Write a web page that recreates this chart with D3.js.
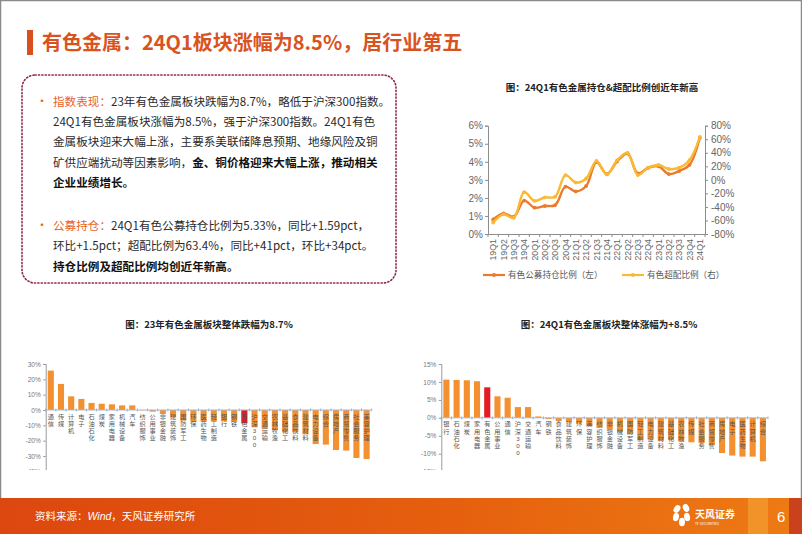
<!DOCTYPE html>
<html><head><meta charset="utf-8">
<script src="https://cdn.jsdelivr.net/npm/d3@7/dist/d3.min.js"></script>
<style>
body{margin:0;background:#fff;}
svg{display:block;font-family:"Noto Sans CJK SC","Noto Sans",sans-serif;}
</style></head><body>
<svg id="c" width="802" height="534"></svg>
<script>
// ---------- data ----------
const quarters = ["19Q1","19Q2","19Q3","19Q4","20Q1","20Q2","20Q3","20Q4","21Q1","21Q2","21Q3","21Q4","22Q1","22Q2","22Q3","22Q4","23Q1","23Q2","23Q3","23Q4","24Q1"];
const holdingRatio = [0.81,1.14,0.96,1.85,1.46,1.55,1.6,2.62,2.36,2.66,3.99,3.32,4.02,4.46,3.36,3.67,3.75,3.32,3.49,3.83,5.33];
const overweightRatio = [-63,-51,-56,-18,-31,-26,-25,7,-4,2,28,8,29,40,7,18,22,16,18,29,63.4];
const leftTicks = [0,1,2,3,4,5,6];
const rightTicks = [-80,-60,-40,-20,0,20,40,60,80];
const legendNames = ["有色公募持仓比例（左）","有色超配比例（右）"];

const cats2023 = ["通信","传媒","计算机","电子","石油石化","煤炭","家用电器","机械设备","汽车","纺织服饰","公用事业","非银金融","建筑装饰","国防军工","环保","医药生物","轻工制造","银行","钢铁","有色金属","沪深300","交通运输","农林牧渔","基础化工","食品饮料","建筑材料","电力设备","综合","房地产","商贸零售","社会服务","美容护理"];
const vals2023 = [25.7,17.0,8.9,7.2,4.6,4.1,3.7,3.0,3.0,-0.2,-1.1,-2.6,-4.8,-7.0,-7.8,-7.4,-7.2,-7.2,-7.6,-8.7,-11.3,-12.2,-13.0,-14.6,-14.6,-15.9,-22.2,-22.6,-26.1,-26.5,-31.3,-32.0];
const ticks2023 = [30,20,10,0,-10,-20,-30,-40];

const cats24Q1 = ["银行","石油石化","煤炭","家用电器","有色金属","公用事业","通信","沪深300","交通运输","汽车","钢铁","食品饮料","建筑装饰","环保","美容护理","纺织服饰","非银金融","机械设备","国防军工","轻工制造","电力设备","建筑材料","基础化工","农林牧渔","传媒","社会服务","商贸零售","房地产","电子","医药生物","计算机","综合"];
const vals24Q1 = [10.65,10.56,10.47,10.2,8.5,6.0,5.6,3.0,3.0,0.4,-0.35,-0.9,-1.2,-1.5,-2.3,-2.8,-3.1,-3.9,-4.5,-6.2,-6.0,-6.4,-6.2,-6.6,-6.8,-7.0,-7.6,-9.8,-10.5,-10.8,-10.8,-12.1];
const ticks24Q1 = [15,10,5,0,-5,-10,-15];

const highlight = "有色金属";

// ---------- slide ----------
const svg = d3.select("#c");
svg.append("rect").attr("x",0.5).attr("y",0.5).attr("width",801).attr("height",533).attr("fill","#fff").attr("stroke","#8a8a8a").attr("stroke-width",1.5);

// title
svg.append("rect").attr("x",27).attr("y",30).attr("width",6).attr("height",25).attr("fill","#D9501E");
svg.append("text").attr("x",42).attr("y",50).attr("font-size",20).attr("font-weight","bold").attr("fill","#D9531F")
  .text("有色金属：24Q1板块涨幅为8.5%，居行业第五");

// text box
svg.append("rect").attr("x",22).attr("y",75).attr("width",374).attr("height",208).attr("rx",13)
  .attr("fill","none").attr("stroke","#8E2A45").attr("stroke-width",1.6).attr("stroke-dasharray","1.2,2.2").attr("stroke-linecap","round");
const lines = [
  {y:106, bullet:true, parts:[["指数表现：","o"],["23年有色金属板块跌幅为8.7%，略低于沪深300指数。","n"]]},
  {y:126, parts:[["24Q1有色金属板块涨幅为8.5%，强于沪深300指数。24Q1有色","n"]]},
  {y:146, parts:[["金属板块迎来大幅上涨，主要系美联储降息预期、地缘风险及铜","n"]]},
  {y:166.5, parts:[["矿供应端扰动等因素影响，","n"],["金、铜价格迎来大幅上涨，推动相关","b"]]},
  {y:186.5, parts:[["企业业绩增长。","b"]]},
  {y:230, bullet:true, parts:[["公募持仓：","o"],["24Q1有色公募持仓比例为5.33%，同比+1.59pct，","n"]]},
  {y:250, parts:[["环比+1.5pct；超配比例为63.4%，同比+41pct，环比+34pct。","n"]]},
  {y:271, parts:[["持仓比例及超配比例均创近年新高。","b"]]}
];
lines.forEach(l=>{
  if(l.bullet) svg.append("text").attr("x",36).attr("y",l.y).attr("font-size",12).attr("fill","#E8632A").text("•");
  const t = svg.append("text").attr("x",53).attr("y",l.y).attr("font-size",11.6).attr("fill","#2a2a2a");
  l.parts.forEach(([s,k])=>{
    const ts = t.append("tspan").text(s);
    if(k==="o") ts.attr("fill","#E8632A");
    if(k==="b") ts.attr("font-weight","bold").attr("fill","#111");
  });
});

// ---------- line chart ----------
svg.append("text").attr("x",602).attr("y",91).attr("text-anchor","middle").attr("font-size",9.5).attr("font-weight","bold").attr("fill","#222")
  .text("图：24Q1有色金属持仓&超配比例创近年新高");
const lx = d3.scaleBand().domain(quarters).range([488,705]);
const ly = d3.scaleLinear().domain([0,6]).range([234,125.7]);
const ry = d3.scaleLinear().domain([-80,80]).range([234,125.7]);
const cx = q => lx(q)+lx.bandwidth()/2;
const axC = "#8c8c8c";
const gL = svg.append("g").attr("transform","translate(488,0)")
  .call(d3.axisLeft(ly).tickValues(leftTicks).tickSize(3).tickFormat(d=>d+"%"));
const gR = svg.append("g").attr("transform","translate(705,0)")
  .call(d3.axisRight(ry).tickValues(rightTicks).tickSize(3).tickFormat(d=>d+"%"));
[gL,gR].forEach(g=>{
  g.select(".domain").attr("stroke",axC);
  g.selectAll(".tick line").attr("stroke",axC);
  g.selectAll("text").attr("font-size",10).attr("fill","#666").attr("font-family","Liberation Sans, Arial, sans-serif");
});
gL.selectAll("text").attr("x",-5);
gR.selectAll("text").attr("x",6);
const gB = svg.append("g").attr("transform","translate(0,234)")
  .call(d3.axisBottom(lx).tickSize(0).tickFormat(""));
gB.select(".domain").attr("stroke",axC);
svg.append("g").selectAll("line").data(d3.range(quarters.length+1)).join("line")
  .attr("x1",i=>488+i*lx.step()).attr("x2",i=>488+i*lx.step())
  .attr("y1",234).attr("y2",237).attr("stroke",axC);
svg.append("g").selectAll("text").data(quarters).join("text")
  .attr("transform",d=>`translate(${cx(d)},239) rotate(-90)`)
  .attr("text-anchor","end").attr("dy","0.35em").attr("font-size",8.8).attr("fill","#666")
  .attr("font-family","Liberation Sans, Arial, sans-serif").text(d=>d);

const orangeC = "#EB7A2D", yellowC = "#FAB932";
const curve = d3.curveCatmullRom.alpha(0.5);
const lineL = d3.line().x((d,i)=>cx(quarters[i])).y(d=>ly(d)).curve(curve);
const lineR = d3.line().x((d,i)=>cx(quarters[i])).y(d=>ry(d)).curve(curve);
svg.append("path").attr("d",lineL(holdingRatio)).attr("fill","none").attr("stroke",orangeC).attr("stroke-width",2.4);
svg.append("g").selectAll("circle").data(holdingRatio).join("circle")
  .attr("cx",(d,i)=>cx(quarters[i])).attr("cy",d=>ly(d)).attr("r",1.9).attr("fill",orangeC);
svg.append("path").attr("d",lineR(overweightRatio)).attr("fill","none").attr("stroke",yellowC).attr("stroke-width",2.4);
svg.append("g").selectAll("circle").data(overweightRatio).join("circle")
  .attr("cx",(d,i)=>cx(quarters[i])).attr("cy",d=>ry(d)).attr("r",1.9).attr("fill",yellowC);

// legend
[[483,orangeC,legendNames[0]],[622,yellowC,legendNames[1]]].forEach(([x,c,t])=>{
  svg.append("line").attr("x1",x).attr("x2",x+22).attr("y1",275).attr("y2",275).attr("stroke",c).attr("stroke-width",2.2);
  svg.append("circle").attr("cx",x+11).attr("cy",275).attr("r",2).attr("fill",c);
  svg.append("text").attr("x",x+25).attr("y",278).attr("font-size",8.6).attr("fill","#555").text(t);
});

// ---------- bar charts ----------
function barChart(opts){
  const {cats, vals, ticks, domain, x0, x1, yTop, yBot, title, titleX} = opts;
  svg.append("text").attr("x",titleX).attr("y",328).attr("text-anchor","middle").attr("font-size",9.5).attr("font-weight","bold").attr("fill","#222").text(title);
  const clipId = "clip"+Math.round(x0);
  svg.append("clipPath").attr("id",clipId).append("rect").attr("x",x0-40).attr("y",355).attr("width",x1-x0+60).attr("height",115);
  const g = svg.append("g").attr("clip-path",`url(#${clipId})`);
  const x = d3.scaleBand().domain(cats).range([x0,x1]).paddingInner(0.4).paddingOuter(0.2);
  const y = d3.scaleLinear().domain(domain).range([yBot,yTop]);
  const ga = g.append("g").attr("transform",`translate(${x0},0)`)
    .call(d3.axisLeft(y).tickValues(ticks).tickSize(2.5).tickFormat(d=>d+"%"));
  ga.select(".domain").attr("stroke","#9a9a9a");
  ga.selectAll(".tick line").attr("stroke","#9a9a9a");
  ga.selectAll("text").attr("font-size",6.5).attr("fill","#777").attr("x",-5).attr("font-family","Liberation Sans, Arial, sans-serif");
  g.append("g").selectAll("rect").data(cats).join("rect")
    .attr("x",d=>x(d)).attr("width",x.bandwidth())
    .attr("y",(d,i)=>y(Math.max(0,vals[i]))).attr("height",(d,i)=>Math.abs(y(vals[i])-y(0)))
    .attr("fill",d=>d===highlight?"#E31B23":"#F39131");
  const y0 = y(0);
  g.append("line").attr("x1",x0).attr("x2",x1).attr("y1",y0).attr("y2",y0).attr("stroke","#A8BAD3").attr("stroke-width",1);
  g.append("g").selectAll("line").data(d3.range(cats.length+1)).join("line")
    .attr("x1",i=>x0+i*(x1-x0)/cats.length).attr("x2",i=>x0+i*(x1-x0)/cats.length)
    .attr("y1",y0-1.5).attr("y2",y0+1.5).attr("stroke","#8FA6C6").attr("stroke-width",0.8);
  const lg = g.append("g").attr("font-family","'Liberation Sans','Noto Sans CJK SC',sans-serif");
  cats.forEach(c=>{
    const cxp = x(c)+x.bandwidth()/2;
    Array.from(c).forEach((ch,j)=>{
      lg.append("text").attr("x",cxp).attr("y",y0+8.6+j*7.1)
        .attr("text-anchor","middle").attr("font-size",6.2).attr("fill","#555").text(ch);
    });
  });
}
barChart({cats:cats2023, vals:vals2023, ticks:ticks2023, domain:[-40,30], x0:45.7, x1:371.7, yTop:364, yBot:471.3,
  title:"图：23年有色金属板块整体跌幅为8.7%", titleX:209});
barChart({cats:cats24Q1, vals:vals24Q1, ticks:ticks24Q1, domain:[-15,15], x0:441.3, x1:768, yTop:364, yBot:471.7,
  title:"图：24Q1有色金属板块整体涨幅为+8.5%", titleX:609});

// ---------- footer ----------
const defs = svg.append("defs");
const grad = defs.append("linearGradient").attr("id","fg").attr("x1","0").attr("x2","1");
grad.append("stop").attr("offset","0").attr("stop-color","#DC470F");
grad.append("stop").attr("offset","0.55").attr("stop-color","#E55F0E");
grad.append("stop").attr("offset","1").attr("stop-color","#EE7B14");
svg.append("rect").attr("x",0).attr("y",498).attr("width",802).attr("height",36).attr("fill","url(#fg)");
svg.append("rect").attr("x",748).attr("y",498).attr("width",20).attr("height",36).attr("fill","#F29A30").attr("opacity",0.8);
svg.append("rect").attr("x",789).attr("y",498).attr("width",13).attr("height",36).attr("fill","#C9421B");
const ft = svg.append("text").attr("x",35).attr("y",520).attr("font-size",10.5).attr("fill","#fff");
ft.append("tspan").text("资料来源：");
ft.append("tspan").attr("font-style","italic").attr("font-family","Liberation Sans, Arial, sans-serif").text("Wind");
ft.append("tspan").text("，天风证券研究所");
// logo
const lgG = svg.append("g").attr("transform","translate(682,516)").attr("fill","#fff");
[[-5,-7,0.8],[4,-8,-0.6],[-6,1,0.3],[5,1,-0.3],[0,6,0]].forEach(([dx,dy,r])=>{
  lgG.append("ellipse").attr("cx",dx).attr("cy",dy).attr("rx",3).attr("ry",4.2).attr("transform",`rotate(${r*40},${dx},${dy})`);
});
svg.append("text").attr("x",695).attr("y",518).attr("font-size",10).attr("font-weight","bold").attr("fill","#fff").text("天风证券");
svg.append("text").attr("x",695).attr("y",525).attr("font-size",3.5).attr("fill","#fff").text("TF SECURITIES");
svg.append("text").attr("x",777).attr("y",522).attr("font-size",15).attr("fill","#fff").attr("font-family","Liberation Sans, Arial, sans-serif").text("6");
</script>
</body></html>
